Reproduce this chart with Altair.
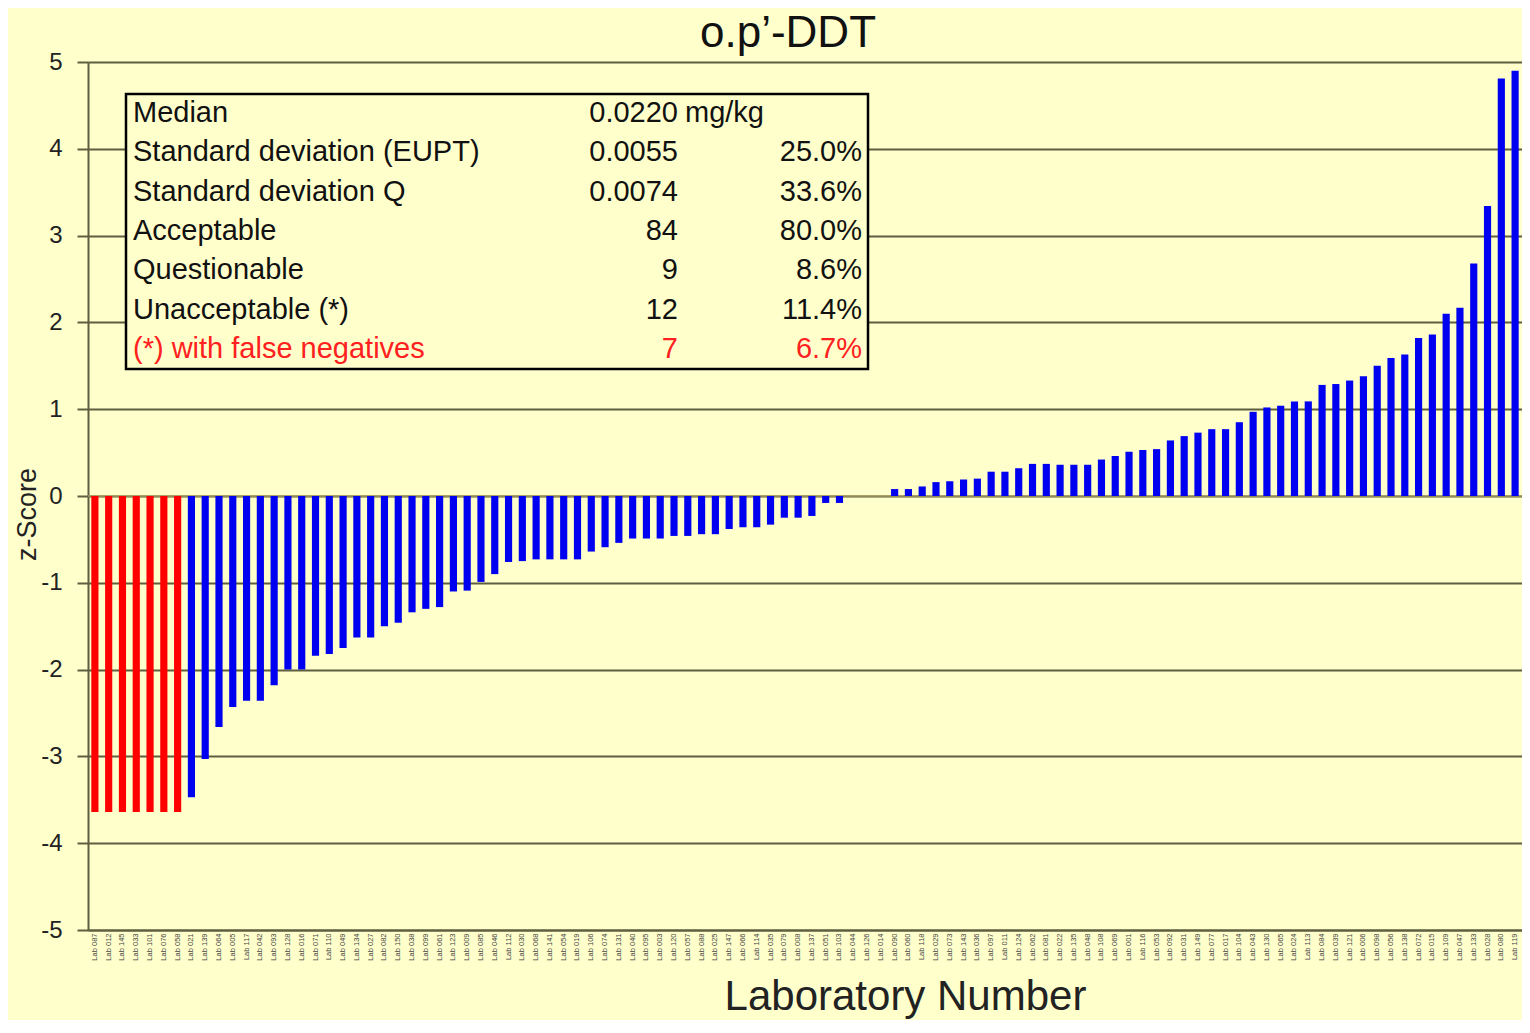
import altair as alt
import pandas as pd

# ---- data ----
z_scores = [
    -3.64, -3.64, -3.64, -3.64, -3.64, -3.64, -3.64,
    -3.47, -3.03, -2.66, -2.43, -2.36, -2.36, -2.18, -2.00, -2.00, -1.84,
    -1.82, -1.75, -1.63, -1.63, -1.50, -1.46, -1.34, -1.30, -1.28, -1.10,
    -1.09, -0.99, -0.90,
    -0.76, -0.75, -0.73, -0.73, -0.73, -0.73, -0.64, -0.59, -0.54, -0.49,
    -0.49, -0.49, -0.46, -0.46, -0.44, -0.44, -0.38, -0.36, -0.36, -0.33,
    -0.25, -0.25, -0.23, -0.08, -0.08,
    0.00, 0.00, 0.00,
    0.08, 0.08, 0.11, 0.16, 0.17, 0.19, 0.20, 0.28, 0.28, 0.32,
    0.37, 0.37, 0.36, 0.36, 0.36,
    0.42, 0.46, 0.51, 0.53, 0.54, 0.64, 0.69, 0.73, 0.77, 0.77,
    0.85, 0.97, 1.02, 1.04, 1.09, 1.09, 1.28, 1.29, 1.33, 1.38,
    1.50, 1.59, 1.63, 1.82, 1.86, 2.10, 2.17, 2.68, 3.34, 4.81,
    4.90,
]

lab_numbers = [
    "Lab 087", "Lab 012", "Lab 145", "Lab 033", "Lab 101", "Lab 076", "Lab 058", "Lab 021", "Lab 139", "Lab 064",
    "Lab 005", "Lab 117", "Lab 042", "Lab 093", "Lab 128", "Lab 016", "Lab 071", "Lab 110", "Lab 049", "Lab 134",
    "Lab 027", "Lab 082", "Lab 150", "Lab 038", "Lab 099", "Lab 061", "Lab 123", "Lab 009", "Lab 085", "Lab 046",
    "Lab 112", "Lab 030", "Lab 068", "Lab 141", "Lab 054", "Lab 019", "Lab 106", "Lab 074", "Lab 131", "Lab 040",
    "Lab 095", "Lab 003", "Lab 120", "Lab 057", "Lab 088", "Lab 025", "Lab 147", "Lab 066", "Lab 114", "Lab 035",
    "Lab 079", "Lab 008", "Lab 137", "Lab 051", "Lab 103", "Lab 044", "Lab 126", "Lab 014", "Lab 090", "Lab 060",
    "Lab 118", "Lab 029", "Lab 073", "Lab 143", "Lab 036", "Lab 097", "Lab 011", "Lab 124", "Lab 062", "Lab 081",
    "Lab 022", "Lab 135", "Lab 048", "Lab 108", "Lab 069", "Lab 001", "Lab 116", "Lab 053", "Lab 092", "Lab 031",
    "Lab 149", "Lab 077", "Lab 017", "Lab 104", "Lab 043", "Lab 130", "Lab 065", "Lab 024", "Lab 113", "Lab 084",
    "Lab 039", "Lab 121", "Lab 006", "Lab 098", "Lab 056", "Lab 138", "Lab 072", "Lab 015", "Lab 109", "Lab 047",
    "Lab 133", "Lab 028", "Lab 080", "Lab 119",
]

n_false_negatives = 7
groups = ["false negative"] * n_false_negatives + ["result"] * (len(z_scores) - n_false_negatives)

y_ticks = [-5, -4, -3, -2, -1, 0, 1, 2, 3, 4, 5]

chart_title = ["o.p\u2019-DDT"]

stat_labels = ["Median", "Standard deviation (EUPT)", "Standard deviation Q", "Acceptable",
               "Questionable", "Unacceptable (*)", "(*) with false negatives"]
stat_values = ["0.0220", "0.0055", "0.0074", "84", "9", "12", "7"]
stat_units = ["mg/kg", "", "", "", "", "", ""]
stat_pcts = ["", "25.0%", "33.6%", "80.0%", "8.6%", "11.4%", "6.7%"]
stat_colors = ["#111111", "#111111", "#111111", "#111111", "#111111", "#111111", "#FF2020"]

# ---- styling ----
BG = "#FFFFCC"
GRID = "#5E5E40"
FONT = "Liberation Sans"

bars_df = pd.DataFrame({"lab": lab_numbers, "z": z_scores, "group": groups})
stats_df = pd.DataFrame({
    "row": list(range(len(stat_labels))),
    "label": stat_labels, "value": stat_values, "unit": stat_units,
    "pct": stat_pcts, "colr": stat_colors,
})
title_df = pd.DataFrame({"t": chart_title})

y_enc = alt.Y(
    "z:Q",
    scale=alt.Scale(domain=[-5, 5], nice=False, zero=False),
    axis=alt.Axis(
        values=y_ticks, labelExpr="'' + datum.value", grid=True, gridColor=GRID,
        gridWidth=2, gridOpacity=1,
        domainColor=GRID, domainWidth=2, tickColor=GRID, tickWidth=2, tickSize=11,
        labelFont=FONT, labelFontSize=24, labelColor="#222222", labelPadding=15,
        title="z-Score", titleFont=FONT, titleFontSize=27, titleFontWeight="normal",
        titleColor="#222222", titleX=-61, titleY=452, titleBaseline="middle",
        titleAlign="center",
    ),
)

x_enc = alt.X(
    "lab:N", sort=None,
    scale=alt.Scale(paddingInner=0.48, paddingOuter=0.24),
    axis=alt.Axis(
        labelAngle=-90, labelFontSize=7.5, labelFont=FONT, labelColor="#444444",
        labelPadding=3, labelOverlap=False, ticks=False, domainColor=GRID, domainWidth=2,
        title="Laboratory Number", titleFont=FONT, titleFontSize=42,
        titleFontWeight="normal", titleColor="#222222", titleX=817, titleY=79,
        titleBaseline="alphabetic", titleAlign="center",
    ),
)

zero_rule = alt.Chart(pd.DataFrame({"z": [0]})).mark_rule(
    color="#A8985A", strokeWidth=1.5
).encode(y=alt.Y("z:Q"))

bars = alt.Chart(bars_df).mark_bar().encode(
    x=x_enc,
    y=y_enc,
    color=alt.Color("group:N", scale=alt.Scale(domain=["false negative", "result"],
                                              range=["#FF0000", "#0000F0"]), legend=None),
)

box = alt.Chart(pd.DataFrame({"b": [1]})).mark_rect(
    fill=BG, stroke="#000000", strokeWidth=2.5
).encode(x=alt.value(38), x2=alt.value(780), y=alt.value(32), y2=alt.value(307))

base_text = alt.Chart(stats_df).transform_calculate(py="51 + datum.row * 39.3")
text_style = dict(font=FONT, fontSize=29, baseline="middle")
col_y = alt.Y("py:Q", scale=None, axis=None)
col_color = alt.Color("colr:N", scale=None)

t_label = base_text.mark_text(align="left", **text_style).encode(
    x=alt.value(45), y=col_y, text="label:N", color=col_color)
t_value = base_text.mark_text(align="right", **text_style).encode(
    x=alt.value(590), y=col_y, text="value:N", color=col_color)
t_unit = base_text.mark_text(align="left", **text_style).encode(
    x=alt.value(597), y=col_y, text="unit:N", color=col_color)
t_pct = base_text.mark_text(align="right", **text_style).encode(
    x=alt.value(774), y=col_y, text="pct:N", color=col_color)

title_mark = alt.Chart(title_df).mark_text(
    font=FONT, fontSize=44, align="center", baseline="alphabetic", color="#111111"
).encode(x=alt.value(700), y=alt.value(-15), text="t:N")

chart = alt.layer(zero_rule, bars, box, t_label, t_value, t_unit, t_pct, title_mark).properties(
    width=1434, height=868,
    autosize=alt.AutoSizeParams(type="none"),
    padding={"left": 80, "top": 54, "right": 0, "bottom": 90},
    background=BG,
).configure_view(stroke=None)

chart.save("out.html", embed_options={"renderer": "svg", "actions": False})
